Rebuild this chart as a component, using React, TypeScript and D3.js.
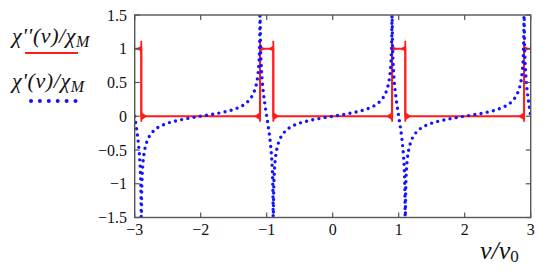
import React, { useEffect, useRef } from "react";
import * as d3 from "d3";

// reduced frequency grid and chi'/chi_M
const nuGrid = [
  -3, -2.99, -2.98, -2.97, -2.96, -2.95, -2.94, -2.93, -2.92, -2.915, -2.91, -2.905, -2.902, -2.901,
  -2.899, -2.898, -2.895, -2.89, -2.88, -2.87, -2.86, -2.85, -2.83, -2.8, -2.75, -2.7, -2.65, -2.6,
  -2.5, -2.4, -2.3, -2.2, -2.1, -2.0,
  -1.9, -1.8, -1.7, -1.6, -1.5, -1.4, -1.35, -1.3, -1.25, -1.2, -1.17, -1.15, -1.14, -1.13, -1.12,
  -1.11, -1.105, -1.102, -1.101, -1.099, -1.098, -1.095, -1.09, -1.085, -1.08, -1.07, -1.06, -1.05,
  -1.04, -1.03, -1.02, -1.01, -1.0,
  -0.99, -0.98, -0.97, -0.96, -0.95, -0.94, -0.93, -0.92, -0.915, -0.91, -0.905, -0.902, -0.901,
  -0.899, -0.898, -0.895, -0.89, -0.88, -0.87, -0.86, -0.85, -0.83, -0.8, -0.75, -0.7, -0.65, -0.6,
  -0.5, -0.4, -0.3, -0.2, -0.1, 0,
  0.1, 0.2, 0.3, 0.4, 0.5, 0.6, 0.65, 0.7, 0.75, 0.8, 0.83, 0.85, 0.86, 0.87, 0.88, 0.89, 0.895,
  0.898, 0.899, 0.901, 0.902, 0.905, 0.91, 0.915, 0.92, 0.93, 0.94, 0.95, 0.96, 0.97, 0.98, 0.99, 1.0,
  1.01, 1.02, 1.03, 1.04, 1.05, 1.06, 1.07, 1.08, 1.085, 1.09, 1.095, 1.098, 1.099, 1.101, 1.102,
  1.105, 1.11, 1.12, 1.13, 1.14, 1.15, 1.17, 1.2, 1.25, 1.3, 1.35, 1.4, 1.5, 1.6, 1.7, 1.8, 1.9, 2.0,
  2.1, 2.2, 2.3, 2.4, 2.5, 2.6, 2.65, 2.7, 2.75, 2.8, 2.83, 2.85, 2.86, 2.87, 2.88, 2.89, 2.895,
  2.898, 2.899, 2.901, 2.902, 2.905, 2.91, 2.915, 2.92, 2.93, 2.94, 2.95, 2.96, 2.97, 2.98, 2.99, 3.0,
];
const chiPrime = [
  0, -0.063, -0.128, -0.196, -0.268, -0.347, -0.438, -0.549, -0.695, -0.796, -0.932, -1.161, -1.457, -1.68,
  -1.68, -1.465, -1.177, -0.963, -0.757, -0.641, -0.563, -0.504, -0.422, -0.339, -0.257, -0.205, -0.168, -0.141,
  -0.102, -0.074, -0.052, -0.033, -0.016, 0,
  0.016, 0.033, 0.052, 0.074, 0.102, 0.141, 0.168, 0.205, 0.257, 0.339, 0.422, 0.504, 0.563, 0.641, 0.757,
  0.963, 1.177, 1.465, 1.68, 1.68, 1.457, 1.161, 0.932, 0.796, 0.695, 0.549, 0.438, 0.347,
  0.268, 0.196, 0.128, 0.063, 0,
  -0.063, -0.128, -0.196, -0.268, -0.347, -0.438, -0.549, -0.695, -0.796, -0.932, -1.161, -1.457, -1.68,
  -1.68, -1.465, -1.177, -0.963, -0.757, -0.641, -0.563, -0.504, -0.422, -0.339, -0.257, -0.205, -0.168, -0.141,
  -0.102, -0.074, -0.052, -0.033, -0.016, 0,
  0.016, 0.033, 0.052, 0.074, 0.102, 0.141, 0.168, 0.205, 0.257, 0.339, 0.422, 0.504, 0.563, 0.641, 0.757, 0.963, 1.177,
  1.465, 1.68, 1.68, 1.457, 1.161, 0.932, 0.796, 0.695, 0.549, 0.438, 0.347, 0.268, 0.196, 0.128, 0.063, 0,
  -0.063, -0.128, -0.196, -0.268, -0.347, -0.438, -0.549, -0.695, -0.796, -0.932, -1.161, -1.457, -1.68, -1.68, -1.465,
  -1.177, -0.963, -0.757, -0.641, -0.563, -0.504, -0.422, -0.339, -0.257, -0.205, -0.168, -0.141, -0.102, -0.074, -0.052, -0.033, -0.016, 0,
  0.016, 0.033, 0.052, 0.074, 0.102, 0.141, 0.168, 0.205, 0.257, 0.339, 0.422, 0.504, 0.563, 0.641, 0.757, 0.963, 1.177,
  1.465, 1.68, 1.68, 1.457, 1.161, 0.932, 0.796, 0.695, 0.549, 0.438, 0.347, 0.268, 0.196, 0.128, 0.063, 0,
];

// chi''/chi_M : rectangular absorption lines
const pulseNu = [-3, -2.9, -2.9, -1.1, -1.1, -0.9, -0.9, 0.9, 0.9, 1.1, 1.1, 2.9, 2.9, 3];
const pulseVal = [1, 1, 0, 0, 1, 1, 0, 0, 1, 1, 0, 0, 1, 1];
const jumpNu = [-2.9, -1.1, -0.9, 0.9, 1.1, 2.9];
const jumpUp = [false, true, false, true, false, true];
const ringRange = [-0.08, 1.12];

const xTicks = [-3, -2, -1, 0, 1, 2, 3];
const xTickLabels = ["\u22123", "\u22122", "\u22121", "0", "1", "2", "3"];
const yTicks = [-1.5, -1, -0.5, 0, 0.5, 1, 1.5];
const yTickLabels = ["\u22121.5", "\u22121", "\u22120.5", "0", "0.5", "1", "1.5"];

const RED = "#ff1c1c";
const BLUE = "#1414ff";
const AXIS = "#555";
const INK = "#111";
const FONT = "Liberation Serif, Times New Roman, DejaVu Serif, serif";

export default function App() {
  const svgRef = useRef<SVGSVGElement>(null);

  useEffect(() => {
    const width = 546;
    const height = 274;
    const plot = { left: 134.7, right: 530.7, top: 15, bottom: 217.5 };

    const svg = d3.select(svgRef.current).attr("width", width).attr("height", height);
    svg.selectAll("*").remove();

    const x = d3.scaleLinear().domain([-3, 3]).range([plot.left, plot.right]);
    const y = d3.scaleLinear().domain([-1.5, 1.5]).range([plot.bottom, plot.top]);

    svg.append("clipPath").attr("id", "plotClip")
      .append("rect")
      .attr("x", plot.left).attr("y", plot.top)
      .attr("width", plot.right - plot.left).attr("height", plot.bottom - plot.top);

    const data = nuGrid.map((n, i) => [n, chiPrime[i]] as [number, number]);
    const pulse = pulseNu.map((n, i) => [n, pulseVal[i]] as [number, number]);

    const g = svg.append("g").attr("clip-path", "url(#plotClip)");

    // chi'' red
    g.append("path")
      .datum(pulse)
      .attr("fill", "none")
      .attr("stroke", RED)
      .attr("stroke-width", 2)
      .attr("d", d3.line().x(d => x(d[0])).y(d => y(d[1])));

    g.selectAll("line.edge")
      .data(jumpNu)
      .enter().append("line")
      .attr("class", "edge")
      .attr("x1", d => x(d)).attr("x2", d => x(d))
      .attr("y1", y(ringRange[0])).attr("y2", y(ringRange[1]))
      .attr("stroke", RED).attr("stroke-width", 1.8);

    // Gibbs ringing near each jump
    const rings: { nu: number; level: number; dir: number; len: number; h: number }[] = [];
    jumpNu.forEach((n, i) => {
      const up = jumpUp[i];
      rings.push({ nu: n, level: 0, dir: up ? -1 : 1, len: 6, h: 4 });
      rings.push({ nu: n, level: 1, dir: up ? 1 : -1, len: 5, h: 3 });
    });
    g.selectAll("path.ring")
      .data(rings)
      .enter().append("path")
      .attr("class", "ring")
      .attr("fill", RED)
      .attr("d", d => {
        const px = x(d.nu);
        const py = y(d.level);
        return `M${px},${py - d.h}L${px + d.dir * d.len},${py}L${px},${py + d.h}Z`;
      });

    // chi' blue dotted
    g.append("path")
      .datum(data)
      .attr("fill", "none")
      .attr("stroke", BLUE)
      .attr("stroke-width", 3.4)
      .attr("stroke-linecap", "round")
      .attr("stroke-dasharray", "0 6.3")
      .attr("d", d3.line().curve(d3.curveMonotoneX).x(d => x(d[0])).y(d => y(d[1])));

    // frame
    svg.append("rect")
      .attr("x", plot.left).attr("y", plot.top)
      .attr("width", plot.right - plot.left).attr("height", plot.bottom - plot.top)
      .attr("fill", "none").attr("stroke", AXIS).attr("stroke-width", 1.4);

    const tk = 5;
    const ticks = svg.append("g").attr("stroke", AXIS).attr("stroke-width", 1.2);
    xTicks.forEach(t => {
      ticks.append("line").attr("x1", x(t)).attr("x2", x(t)).attr("y1", plot.bottom).attr("y2", plot.bottom - tk);
      ticks.append("line").attr("x1", x(t)).attr("x2", x(t)).attr("y1", plot.top).attr("y2", plot.top + tk);
    });
    yTicks.forEach(t => {
      ticks.append("line").attr("y1", y(t)).attr("y2", y(t)).attr("x1", plot.left).attr("x2", plot.left + tk);
      ticks.append("line").attr("y1", y(t)).attr("y2", y(t)).attr("x1", plot.right).attr("x2", plot.right - tk);
    });

    svg.append("g")
      .selectAll("text")
      .data(xTicks)
      .enter().append("text")
      .attr("x", d => x(d))
      .attr("y", 235)
      .attr("text-anchor", "middle")
      .style("font-family", FONT).style("font-size", "16px").attr("fill", INK)
      .text((d, i) => xTickLabels[i]);

    svg.append("g")
      .selectAll("text")
      .data(yTicks)
      .enter().append("text")
      .attr("x", 127)
      .attr("y", d => y(d))
      .attr("dy", "0.35em")
      .attr("text-anchor", "end")
      .style("font-family", FONT).style("font-size", "16px").attr("fill", INK)
      .text((d, i) => yTickLabels[i]);

    // axis title nu/nu0
    const xt = svg.append("text")
      .attr("x", 480).attr("y", 259)
      .style("font-family", FONT).style("font-size", "26px").attr("fill", INK);
    xt.append("tspan").style("font-style", "italic").text("\u03bd/\u03bd");
    xt.append("tspan").style("font-size", "17px").attr("dy", 3).text("0");

    // legend
    const leg = (label: string, yy: number) => {
      const t = svg.append("text")
        .attr("x", 12).attr("y", yy)
        .style("font-family", FONT).style("font-size", "22px").style("font-style", "italic")
        .style("letter-spacing", "0.6px")
        .attr("fill", INK);
      t.append("tspan").text(label);
      t.append("tspan").style("font-size", "16px").attr("dy", 4).text("M");
    };
    leg("\u03c7''(\u03bd)/\u03c7", 43);
    leg("\u03c7'(\u03bd)/\u03c7", 88);

    svg.append("line")
      .attr("x1", 25).attr("x2", 78).attr("y1", 53).attr("y2", 53)
      .attr("stroke", RED).attr("stroke-width", 2);
    svg.append("line")
      .attr("x1", 31).attr("x2", 77).attr("y1", 101).attr("y2", 101)
      .attr("stroke", BLUE).attr("stroke-width", 4)
      .attr("stroke-linecap", "round").attr("stroke-dasharray", "0 8.9");
  }, []);

  return (
    <svg ref={svgRef} style={{ position: "absolute", left: 0, top: 0 }} />
  );
}
